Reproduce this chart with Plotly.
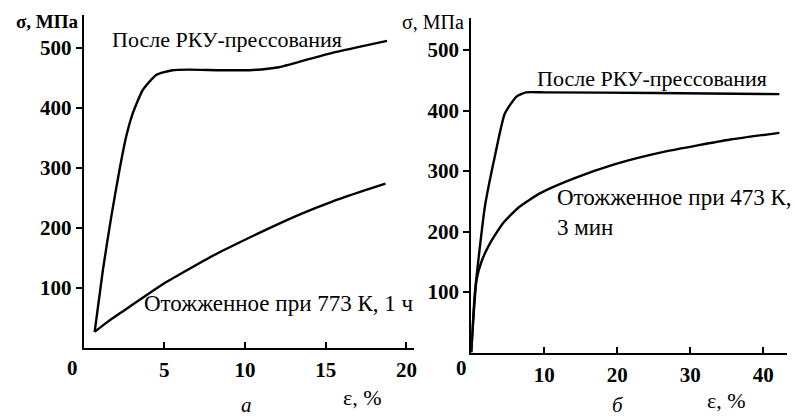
import plotly.graph_objects as go

# Panel "а": stress-strain curves, strain in %, stress in MPa
a_ecap_strain = [0.68, 1.19, 1.71, 2.22, 2.63, 3.04, 3.66, 4.49, 5.5, 6.5, 8.5, 10.25, 12.1, 15.4, 18.8]
a_ecap_stress = [27, 130, 219, 297, 352, 391, 430, 455, 463, 464, 463, 463, 468, 492, 512]
a_ann_strain = [0.68, 1.5, 2.53, 3.77, 5.0, 6.23, 8.09, 9.2, 11.28, 13.33, 15.4, 17.45, 18.7]
a_ann_stress = [27, 44, 63, 86, 108, 127, 155, 170, 197, 222, 244, 263, 274]

# Panel "б"
b_ecap_strain = [0.0, 0.5, 1.87, 3.23, 4.6, 6.2, 7.5, 10.0, 25.0, 42.2]
b_ecap_stress = [0, 98, 241, 324, 395, 423, 430, 430, 429, 427]
b_ann_strain = [0.0, 0.73, 1.4, 2.55, 4.37, 6.6, 9.4, 13.9, 19.6, 26.5, 35.5, 42.2]
b_ann_stress = [0, 120, 150, 180, 214, 241, 263, 287, 311, 332, 352, 363]

a_xticks = [5, 10, 15, 20]
b_xticks = [10, 20, 30, 40]
y_ticks = [100, 200, 300, 400, 500]

label_ecap = "После РКУ-прессования"
label_a_ann = "Отожженное при 773 К, 1 ч"
label_b_ann = "Отожженное при 473 К,<br>3 мин"

SERIF = "Times New Roman"
W, H = 795, 418

line = dict(color="black", width=2.4, shape="spline", smoothing=0.5)

fig = go.Figure()
fig.add_trace(go.Scatter(x=a_ecap_strain, y=a_ecap_stress, mode="lines", line=line,
                         xaxis="x", yaxis="y", showlegend=False))
fig.add_trace(go.Scatter(x=a_ann_strain, y=a_ann_stress, mode="lines", line=line,
                         xaxis="x", yaxis="y", showlegend=False))
fig.add_trace(go.Scatter(x=b_ecap_strain, y=b_ecap_stress, mode="lines", line=line,
                         xaxis="x2", yaxis="y2", showlegend=False))
fig.add_trace(go.Scatter(x=b_ann_strain, y=b_ann_stress, mode="lines", line=line,
                         xaxis="x2", yaxis="y2", showlegend=False))

tickfont = dict(family=SERIF, size=21, color="black", weight="bold")


def px_x(p):
    return p / W


def px_y(p):
    return 1 - p / H


xcommon = dict(showline=True, linecolor="black", linewidth=2, showgrid=False, zeroline=False,
               ticks="inside", ticklen=6, tickwidth=1.5, tickcolor="black",
               tickfont=tickfont, ticklabelstandoff=2)
ycommon = dict(showline=True, linecolor="black", linewidth=2, showgrid=False, zeroline=False,
               ticks="outside", ticklen=6, tickwidth=1.5, tickcolor="black",
               tickfont=tickfont, tickvals=y_ticks, ticklabelstandoff=0)

fig.update_layout(
    width=W, height=H,
    margin=dict(l=0, r=0, t=0, b=0),
    paper_bgcolor="white", plot_bgcolor="white",
    font=dict(family=SERIF, color="black"),
    xaxis=dict(xcommon, domain=[px_x(84), px_x(416)], range=[0, (416 - 84) / 16.2],
               tickvals=a_xticks, anchor="y"),
    yaxis=dict(ycommon, domain=[px_y(348), px_y(15)], range=[0, (348 - 15) / 0.6], anchor="x"),
    xaxis2=dict(xcommon, domain=[px_x(473), px_x(790)], range=[0, (790 - 473) / 7.33],
                tickvals=b_xticks, anchor="y2"),
    yaxis2=dict(ycommon, domain=[px_y(352.5), px_y(18)], range=[0, (352.5 - 18) / 0.605],
                anchor="x2"),
)

txt = dict(family=SERIF, size=22, color="black")
wide = dict(family=SERIF, size=23, color="black")
annotations = [
    # curve labels
    dict(x=1.6, y=514, xref="x", yref="y", text=label_ecap, xanchor="left", yanchor="middle"),
    dict(x=3.6, y=75, xref="x", yref="y", text=label_a_ann, xanchor="left", yanchor="middle",
         font=wide),
    dict(x=8.7, y=453, xref="x2", yref="y2", text=label_ecap, xanchor="left", yanchor="middle"),
    dict(x=11.5, y=232, xref="x2", yref="y2", text=label_b_ann, xanchor="left",
         yanchor="middle", align="left", font=wide),
    # axis titles
    dict(x=px_x(81), y=px_y(22), xref="paper", yref="paper", text="σ, МПа",
         xanchor="right", yanchor="middle",
         font=dict(family=SERIF, size=19, color="black", weight="bold")),
    dict(x=px_x(468), y=px_y(22), xref="paper", yref="paper", text="σ, МПа",
         xanchor="right", yanchor="middle", font=dict(family=SERIF, size=20, color="black")),
    dict(x=px_x(364), y=px_y(397), xref="paper", yref="paper", text="ε, %",
         xanchor="center", yanchor="middle", font=dict(family=SERIF, size=22, color="black")),
    dict(x=px_x(729), y=px_y(400), xref="paper", yref="paper", text="ε, %",
         xanchor="center", yanchor="middle", font=dict(family=SERIF, size=22, color="black")),
    # origin labels
    dict(x=px_x(73), y=px_y(368), xref="paper", yref="paper", text="0",
         xanchor="center", yanchor="middle", font=tickfont),
    dict(x=px_x(463), y=px_y(368), xref="paper", yref="paper", text="0",
         xanchor="center", yanchor="middle", font=tickfont),
    # panel letters
    dict(x=px_x(247), y=px_y(405), xref="paper", yref="paper", text="<i>а</i>",
         xanchor="center", yanchor="middle", font=dict(family=SERIF, size=21, color="black")),
    dict(x=px_x(620), y=px_y(405), xref="paper", yref="paper", text="<i>б</i>",
         xanchor="center", yanchor="middle", font=dict(family=SERIF, size=21, color="black")),
]
for a in annotations:
    a.setdefault("font", txt)
    a["showarrow"] = False
fig.update_layout(annotations=annotations)

fig.write_html("out.html")
